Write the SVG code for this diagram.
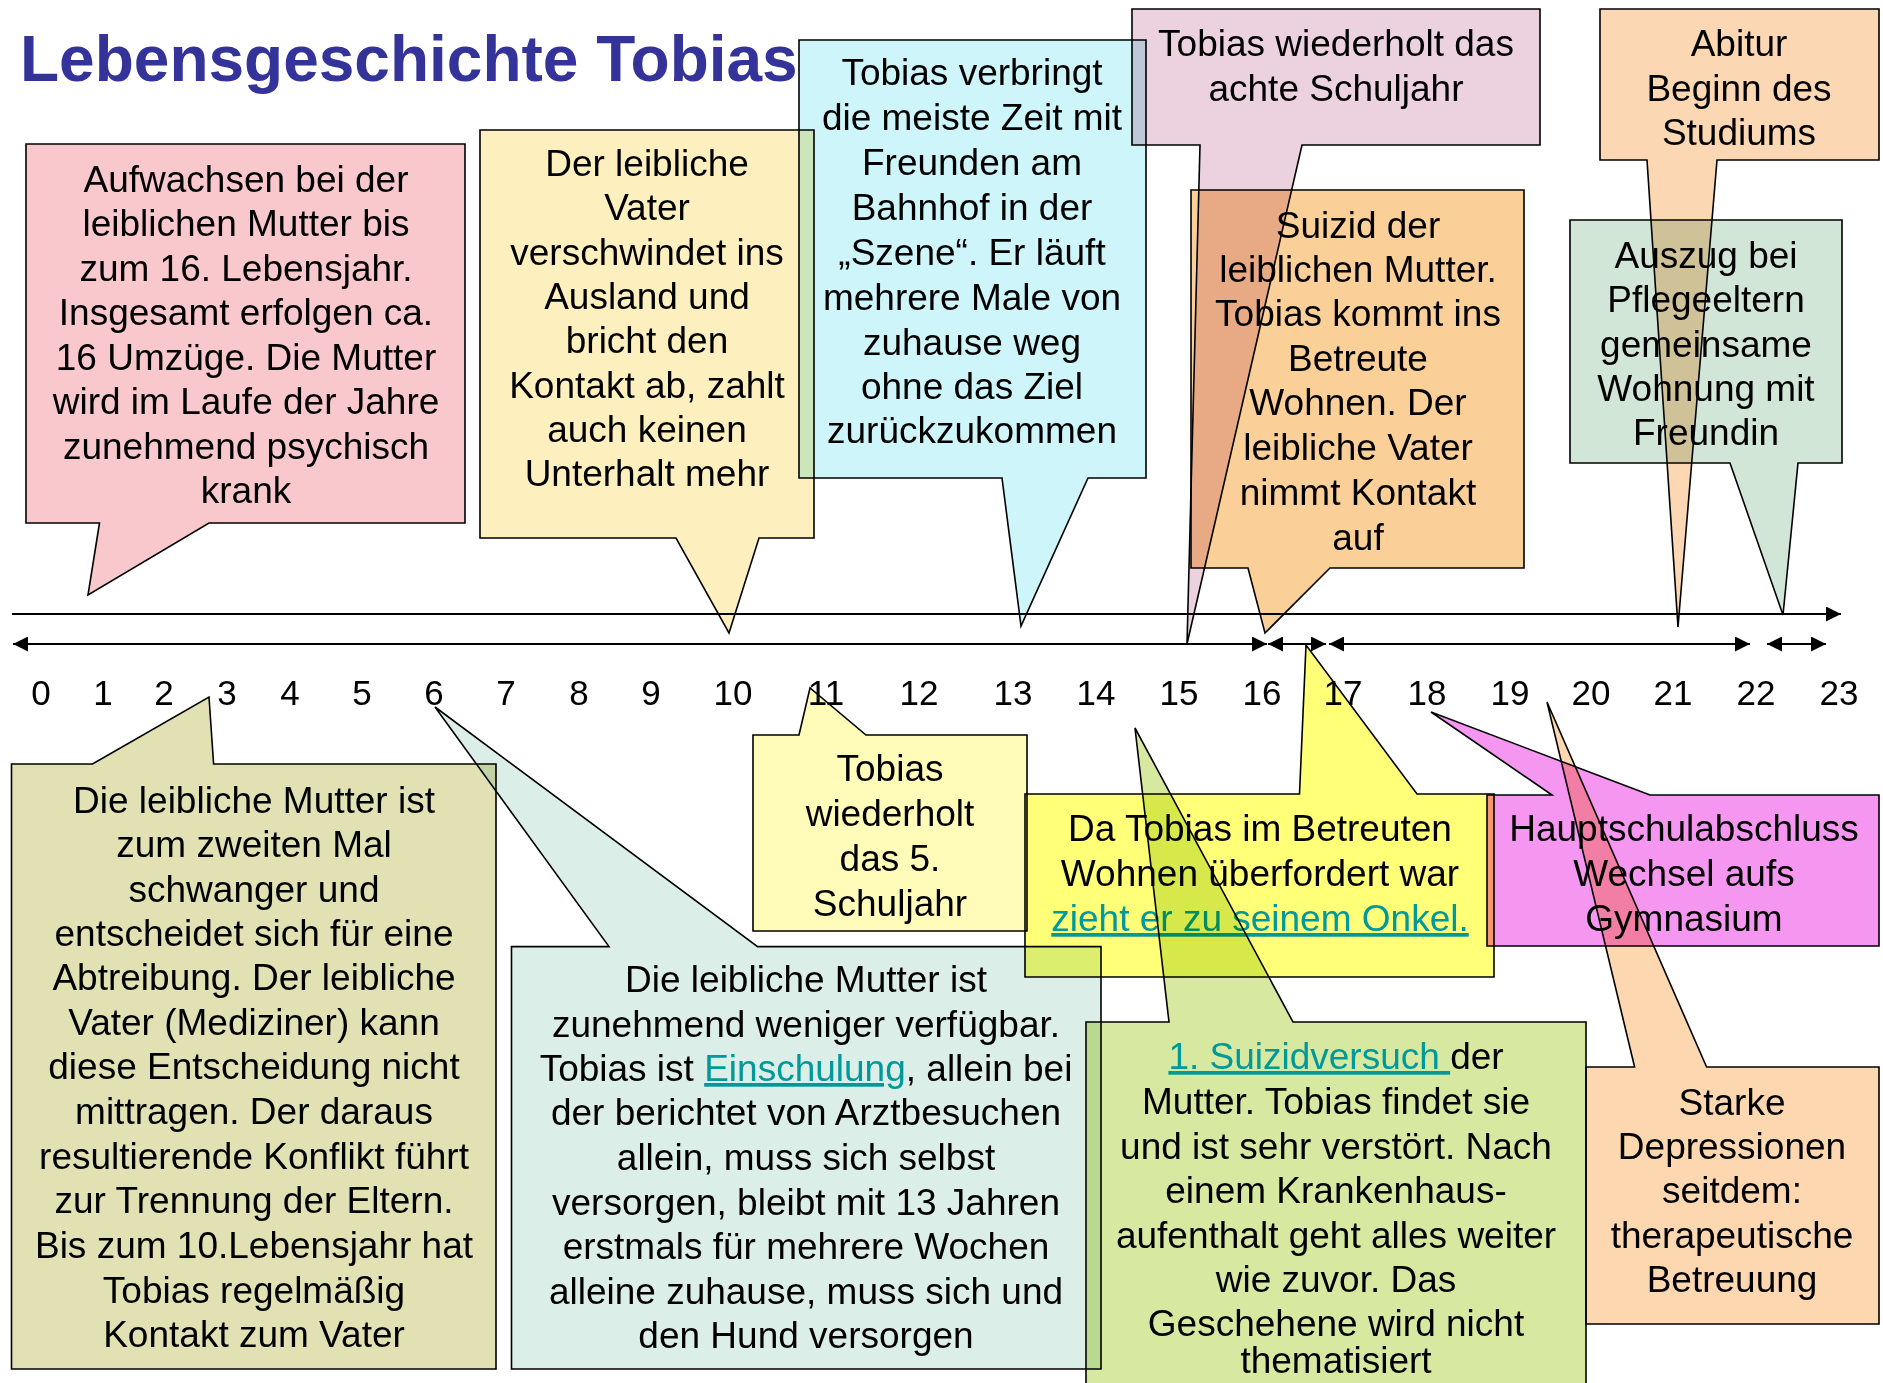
<svg xmlns="http://www.w3.org/2000/svg" width="1883" height="1383" viewBox="0 0 1883 1383">
<style>
  .box { stroke: #000; stroke-width: 1.6; stroke-linejoin: miter; mix-blend-mode: multiply; }
  .t { font-family: "Liberation Sans", Arial, sans-serif; font-size: 37px; fill: #000; text-anchor: middle; }
  .num { font-family: "Liberation Sans", Arial, sans-serif; font-size: 35px; fill: #000; text-anchor: middle; }
  .link { fill: #009999; text-decoration: underline; }
  .title { font-family: "Liberation Sans", Arial, sans-serif; font-size: 64px; font-weight: bold; fill: #333399; }
  .axis { stroke: #000; stroke-width: 2; fill: none; }
</style>
<defs>
  <marker id="arr" viewBox="0 0 15 15" refX="15" refY="7.5" markerWidth="15" markerHeight="15" markerUnits="userSpaceOnUse" orient="auto-start-reverse">
    <path d="M0,0 L15,7.5 L0,15 Z" fill="#000"/>
  </marker>
</defs>
<rect x="0" y="0" width="1883" height="1383" fill="#fff"/>

<text id="title" class="title" x="20" y="81">Lebensgeschichte Tobias</text>

<g id="connectors">
  <line class="axis" x1="12" y1="614" x2="1841" y2="614" marker-end="url(#arr)"/>
  <line class="axis" x1="13" y1="644" x2="1267" y2="644" marker-start="url(#arr)" marker-end="url(#arr)"/>
  <line class="axis" x1="1268" y1="644" x2="1326" y2="644" marker-start="url(#arr)" marker-end="url(#arr)"/>
  <line class="axis" x1="1329" y1="644" x2="1750" y2="644" marker-start="url(#arr)" marker-end="url(#arr)"/>
  <line class="axis" x1="1767" y1="644" x2="1826" y2="644" marker-start="url(#arr)" marker-end="url(#arr)"/>
</g>

<g id="axis-labels" class="num">
  <text x="41" y="705">0</text>
  <text x="103" y="705">1</text>
  <text x="164" y="705">2</text>
  <text x="227" y="705">3</text>
  <text x="290" y="705">4</text>
  <text x="362" y="705">5</text>
  <text x="434" y="705">6</text>
  <text x="506" y="705">7</text>
  <text x="579" y="705">8</text>
  <text x="651" y="705">9</text>
  <text x="733" y="705">10</text>
  <text x="826" y="705">11</text>
  <text x="919" y="705">12</text>
  <text x="1013" y="705">13</text>
  <text x="1096" y="705">14</text>
  <text x="1179" y="705">15</text>
  <text x="1262" y="705">16</text>
  <text x="1343" y="705">17</text>
  <text x="1427" y="705">18</text>
  <text x="1510" y="705">19</text>
  <text x="1591" y="705">20</text>
  <text x="1673" y="705">21</text>
  <text x="1756" y="705">22</text>
  <text x="1839" y="705">23</text>
</g>

<g id="n-aufwachsen">
  <path class="box" fill="#f8c8cd" d="M26,144 H465 V523 H209 L88,595 L99.5,523 H26 Z"/>
  <g class="t">
    <text x="246" y="192">Aufwachsen bei der</text>
    <text x="246" y="236">leiblichen Mutter bis</text>
    <text x="246" y="281">zum 16. Lebensjahr.</text>
    <text x="246" y="325">Insgesamt erfolgen ca.</text>
    <text x="246" y="370">16 Umzüge. Die Mutter</text>
    <text x="246" y="414">wird im Laufe der Jahre</text>
    <text x="246" y="459">zunehmend psychisch</text>
    <text x="246" y="503">krank</text>
  </g>
</g>

<g id="n-vater">
  <path class="box" fill="#fdf0be" d="M480,130 H814 V538 H759 L729,633 L676,538 H480 Z"/>
  <g class="t">
    <text x="647" y="176">Der leibliche</text>
    <text x="647" y="220">Vater</text>
    <text x="647" y="265">verschwindet ins</text>
    <text x="647" y="309">Ausland und</text>
    <text x="647" y="353">bricht den</text>
    <text x="647" y="398">Kontakt ab, zahlt</text>
    <text x="647" y="442">auch keinen</text>
    <text x="647" y="486">Unterhalt mehr</text>
  </g>
</g>

<g id="n-szene">
  <path class="box" fill="#cdf5fa" d="M799,40 H1146 V478 H1088 L1021,626 L1002,478 H799 Z"/>
  <g class="t">
    <text x="972" y="85">Tobias verbringt</text>
    <text x="972" y="130">die meiste Zeit mit</text>
    <text x="972" y="175">Freunden am</text>
    <text x="972" y="220">Bahnhof in der</text>
    <text x="972" y="265">„Szene“. Er läuft</text>
    <text x="972" y="310">mehrere Male von</text>
    <text x="972" y="355">zuhause weg</text>
    <text x="972" y="399">ohne das Ziel</text>
    <text x="972" y="443">zurückzukommen</text>
  </g>
</g>

<g id="n-achte">
  <path class="box" fill="#ebd2de" d="M1132,9 H1540 V145 H1302 L1187,644 L1200,145 H1132 Z"/>
  <g class="t">
    <text x="1336" y="56">Tobias wiederholt das</text>
    <text x="1336" y="101">achte Schuljahr</text>
  </g>
</g>

<g id="n-suizid">
  <path class="box" fill="#fbcf98" d="M1191,190 H1524 V568 H1330 L1265,633 L1248,568 H1191 Z"/>
  <g class="t">
    <text x="1358" y="238">Suizid der</text>
    <text x="1358" y="282">leiblichen Mutter.</text>
    <text x="1358" y="326">Tobias kommt ins</text>
    <text x="1358" y="371">Betreute</text>
    <text x="1358" y="415">Wohnen. Der</text>
    <text x="1358" y="460">leibliche Vater</text>
    <text x="1358" y="505">nimmt Kontakt</text>
    <text x="1358" y="550">auf</text>
  </g>
</g>

<g id="n-abitur">
  <path class="box" fill="#fcd7b4" d="M1600,9 H1879 V160 H1717 L1678,627 L1647,160 H1600 Z"/>
  <g class="t">
    <text x="1739" y="56">Abitur</text>
    <text x="1739" y="101">Beginn des</text>
    <text x="1739" y="145">Studiums</text>
  </g>
</g>

<g id="n-auszug">
  <path class="box" fill="#d2e6d7" d="M1570,220 H1842 V463 H1798 L1783,615 L1730,463 H1570 Z"/>
  <g class="t">
    <text x="1706" y="268">Auszug bei</text>
    <text x="1706" y="312">Pflegeeltern</text>
    <text x="1706" y="357">gemeinsame</text>
    <text x="1706" y="401">Wohnung mit</text>
    <text x="1706" y="445">Freundin</text>
  </g>
</g>

<g id="n-schwanger">
  <path class="box" fill="#e1e1b4" d="M11.5,764 H92.5 L209,697 L213.6,764 H496 V1369 H11.5 Z"/>
  <g class="t">
    <text x="254" y="813">Die leibliche Mutter ist</text>
    <text x="254" y="857">zum zweiten Mal</text>
    <text x="254" y="902">schwanger und</text>
    <text x="254" y="946">entscheidet sich für eine</text>
    <text x="254" y="990">Abtreibung. Der leibliche</text>
    <text x="254" y="1035">Vater (Mediziner) kann</text>
    <text x="254" y="1079">diese Entscheidung nicht</text>
    <text x="254" y="1124">mittragen. Der daraus</text>
    <text x="254" y="1169">resultierende Konflikt führt</text>
    <text x="254" y="1213">zur Trennung der Eltern.</text>
    <text x="254" y="1258">Bis zum 10.Lebensjahr hat</text>
    <text x="254" y="1303">Tobias regelmäßig</text>
    <text x="254" y="1347">Kontakt zum Vater</text>
  </g>
</g>

<g id="n-einschulung">
  <path class="box" fill="#dceee8" d="M511.5,946.6 H609 L435,707 L757.6,946.6 H1101 V1369 H511.5 Z"/>
  <g class="t">
    <text x="806" y="992">Die leibliche Mutter ist</text>
    <text x="806" y="1037">zunehmend weniger verfügbar.</text>
    <text x="806" y="1081">Tobias ist <tspan class="link">Einschulung</tspan>, allein bei</text>
    <text x="806" y="1125">der berichtet von Arztbesuchen</text>
    <text x="806" y="1170">allein, muss sich selbst</text>
    <text x="806" y="1215">versorgen, bleibt mit 13 Jahren</text>
    <text x="806" y="1259">erstmals für mehrere Wochen</text>
    <text x="806" y="1304">alleine zuhause, muss sich und</text>
    <text x="806" y="1348">den Hund versorgen</text>
  </g>
</g>

<g id="n-fuenftes">
  <path class="box" fill="#fffcb9" d="M753,735 H799 L810,688 L866,735 H1027 V931 H753 Z"/>
  <g class="t">
    <text x="890" y="781">Tobias</text>
    <text x="890" y="826">wiederholt</text>
    <text x="890" y="871">das 5.</text>
    <text x="890" y="916">Schuljahr</text>
  </g>
</g>

<g id="n-onkel">
  <path class="box" fill="#ffff78" d="M1025,794 H1299.5 L1306,645 L1417,794 H1494 V977 H1025 Z"/>
  <g class="t">
    <text x="1260" y="841">Da Tobias im Betreuten</text>
    <text x="1260" y="886">Wohnen überfordert war</text>
    <text x="1260" y="931" class="link">zieht er zu seinem Onkel.</text>
  </g>
</g>

<g id="n-hauptschule">
  <path class="box" fill="#f596f0" d="M1487,795 H1552 L1431,712 L1650,795 H1879 V946 H1487 Z"/>
  <g class="t">
    <text x="1684" y="841">Hauptschulabschluss</text>
    <text x="1684" y="886">Wechsel aufs</text>
    <text x="1684" y="931">Gymnasium</text>
  </g>
</g>

<g id="n-suizidversuch">
  <path class="box" fill="#d7e8a0" d="M1086,1022 H1169 L1135,728 L1293,1022 H1586 V1400 H1086 Z"/>
  <g class="t">
    <text x="1336" y="1069"><tspan class="link">1. Suizidversuch </tspan>der</text>
    <text x="1336" y="1114">Mutter. Tobias findet sie</text>
    <text x="1336" y="1159">und ist sehr verstört. Nach</text>
    <text x="1336" y="1203">einem Krankenhaus-</text>
    <text x="1336" y="1248">aufenthalt geht alles weiter</text>
    <text x="1336" y="1292">wie zuvor. Das</text>
    <text x="1336" y="1336">Geschehene wird nicht</text>
    <text x="1336" y="1373">thematisiert</text>
  </g>
</g>

<g id="n-depression">
  <path class="box" fill="#fdd7af" d="M1586,1067 H1634.6 L1547,702 L1706.6,1067 H1879 V1324 H1586 Z"/>
  <g class="t">
    <text x="1732" y="1115">Starke</text>
    <text x="1732" y="1159">Depressionen</text>
    <text x="1732" y="1203">seitdem:</text>
    <text x="1732" y="1248">therapeutische</text>
    <text x="1732" y="1292">Betreuung</text>
  </g>
</g>
</svg>
